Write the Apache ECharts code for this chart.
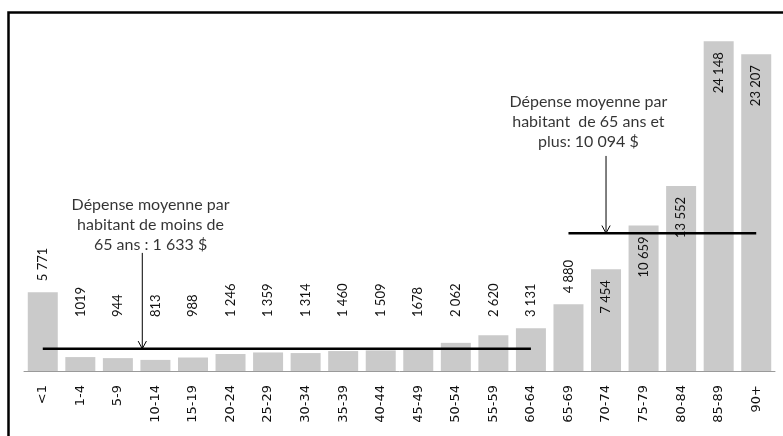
<!DOCTYPE html>
<html>
<head>
<meta charset="utf-8">
<script src="https://cdn.jsdelivr.net/npm/echarts@6/dist/echarts.min.js"></script>
<style>
  html, body { margin: 0; padding: 0; background: #fff; }
  #chart { width: 783px; height: 436px; }
</style>
</head>
<body>
<div id="chart"></div>
<script>
// tranches d'âge
var ageGroups = ['<1', '1-4', '5-9', '10-14', '15-19', '20-24', '25-29', '30-34', '35-39', '40-44',
  '45-49', '50-54', '55-59', '60-64', '65-69', '70-74', '75-79', '80-84', '85-89', '90+'];
// dépense par habitant ($)
var spending = [5771, 1019, 944, 813, 988, 1246, 1359, 1314, 1460, 1509,
  1678, 2062, 2620, 3131, 4880, 7454, 10659, 13552, 24148, 23207];
var valueLabels = ['5 771', '1019', '944', '813', '988', '1 246', '1 359', '1 314', '1 460', '1 509',
  '1678', '2 062', '2 620', '3 131', '4 880', '7 454', '10 659', '13 552', '24 148', '23 207'];
// moyennes
var meanUnder65 = 1633;
var meanOver65 = 10094;
var noteUnder65 = 'Dépense moyenne par\nhabitant de moins de\n65 ans : 1 633 $';
var noteOver65 = 'Dépense moyenne par\nhabitant  de 65 ans et\nplus: 10 094 $';

var myChart = echarts.init(document.getElementById('chart'));

// position des étiquettes comme dans le graphique d'origine
function barLabel(i) {
  var base = {show: true, rotate: 90, verticalAlign: 'middle', color: '#111',
    fontFamily: 'Lato', fontSize: 13, formatter: valueLabels[i]};
  if (i === 0 || i === 14) {
    base.position = 'top'; base.align = 'left'; base.distance = 11;
  } else if (i > 14) {
    base.position = 'insideTop'; base.align = 'right'; base.distance = 11;
  } else {
    base.position = 'insideBottom'; base.align = 'left'; base.distance = 54;
  }
  return base;
}

var barData = spending.map(function (v, i) {
  return {value: v, label: barLabel(i)};
});

// flèche verticale + pointe en V
function arrow(x, yTop, yEnd) {
  return [
    {type: 'line', xAxisIndex: 1, data: [[x, yTop], [x, yEnd]]},
    {type: 'line', xAxisIndex: 1, data: [[x - 0.11, yEnd + 560], [x, yEnd], [x + 0.11, yEnd + 560]]}
  ].map(function (s) {
    s.symbol = 'none';
    s.silent = true;
    s.lineStyle = {color: '#000', width: 1};
    return s;
  });
}

function note(x, y, text) {
  return {
    type: 'scatter', xAxisIndex: 1, symbolSize: 0, silent: true,
    data: [[x, y]],
    label: {show: true, position: 'inside', formatter: text, color: '#000',
      fontFamily: 'Lato', fontSize: 16, lineHeight: 20, align: 'center'}
  };
}

var option = {
  animation: false,
  backgroundColor: '#fff',
  grid: {left: 24, right: 8, top: 16, bottom: 65},
  graphic: [{
    type: 'rect', left: 6, top: 10, silent: true,
    shape: {width: 900, height: 600},
    style: {fill: 'none', stroke: '#000', lineWidth: 2.5}
  }],
  xAxis: [{
    type: 'category',
    data: ageGroups,
    axisLine: {lineStyle: {color: '#9a9a9a'}},
    axisTick: {length: 6, lineStyle: {color: '#9a9a9a'}},
    axisLabel: {rotate: 90, margin: 14, color: '#111', fontFamily: 'DejaVu Sans', fontSize: 13}
  }, {
    type: 'value', min: -0.5, max: 19.5, show: false
  }],
  yAxis: {
    type: 'value', min: 0, max: 26000, show: false, splitLine: {show: false}
  },
  series: [{
    type: 'bar',
    data: barData,
    barWidth: 30,
    itemStyle: {color: '#cacaca'}
  }, {
    type: 'line', xAxisIndex: 1, symbol: 'none', silent: true,
    lineStyle: {color: '#000', width: 2.5},
    data: [[0, meanUnder65], [13, meanUnder65]]
  }, {
    type: 'line', xAxisIndex: 1, symbol: 'none', silent: true,
    lineStyle: {color: '#000', width: 2.5},
    data: [[14, meanOver65], [19, meanOver65]]
  }]
    .concat(arrow(2.65, 8650, meanUnder65))
    .concat(arrow(15, 15750, meanOver65))
    .concat([note(2.87, 10700, noteUnder65), note(14.53, 18280, noteOver65)])
};

myChart.setOption(option);
</script>
</body>
</html>
